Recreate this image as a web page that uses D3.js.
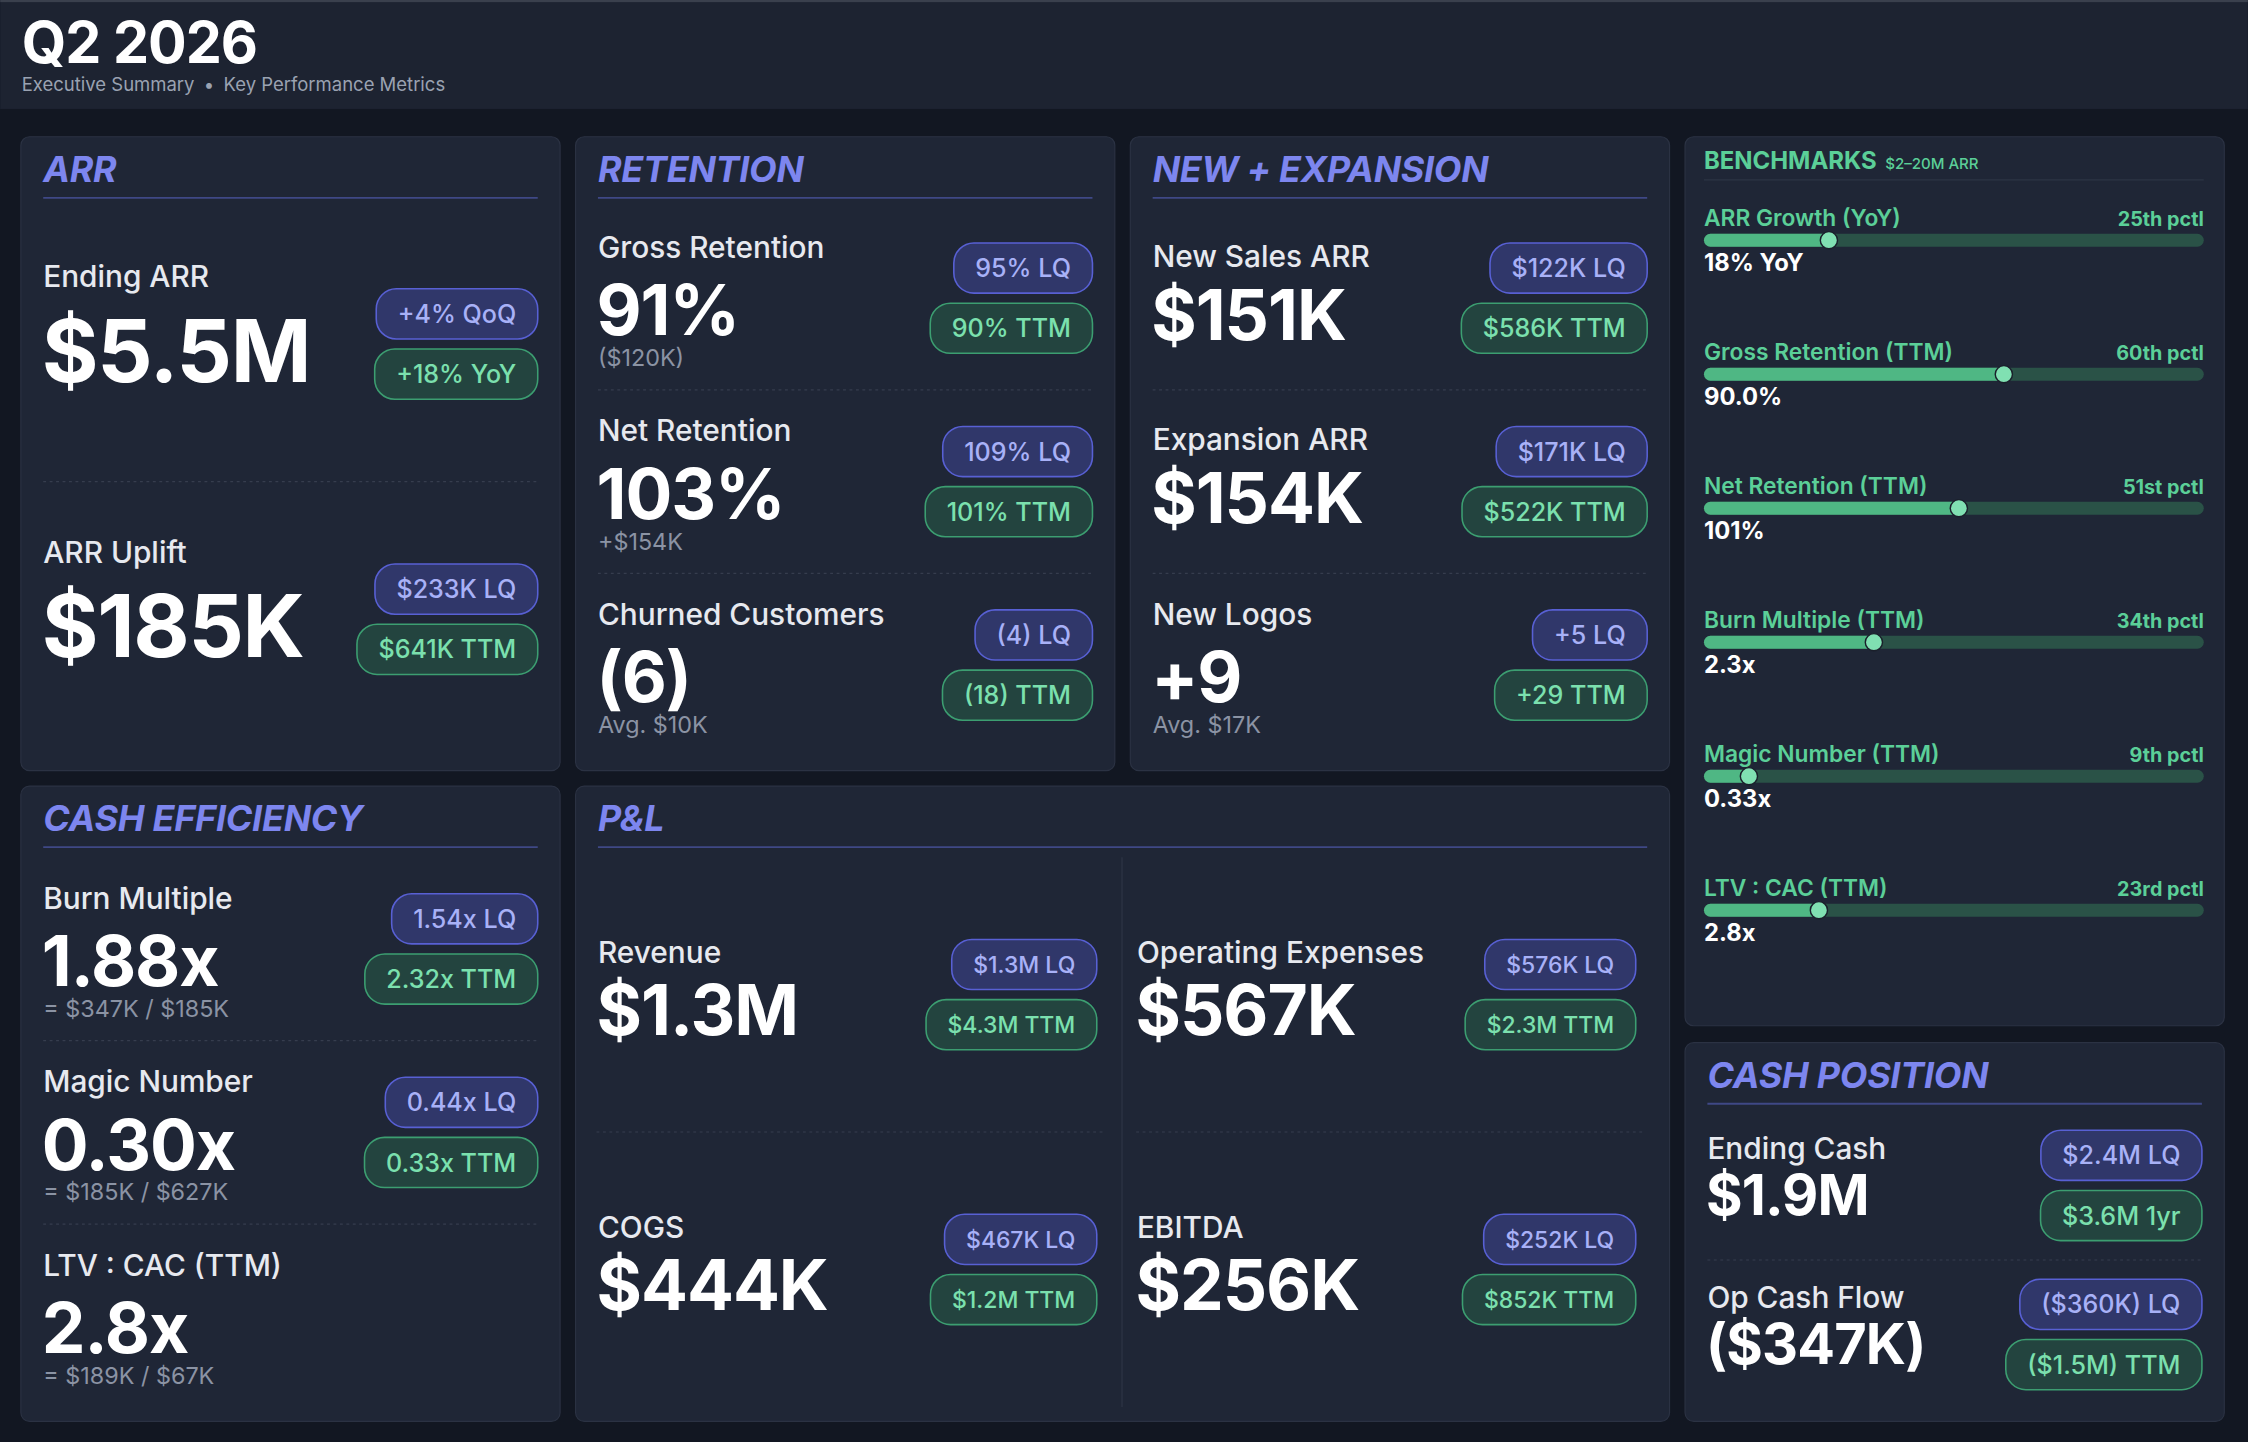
<!DOCTYPE html>
<html><head><meta charset="utf-8">
<script src="https://cdn.jsdelivr.net/npm/d3@7"></script>
<style>
html,body{margin:0;padding:0;background:#121722;overflow:hidden;}
svg{display:block;font-family:Inter,"Noto Sans",sans-serif;}
</style></head><body>
<svg id="c" width="2248" height="1442" viewBox="0 0 1568 1006"></svg>
<script>
// ---------- DATA ----------
const reportTitle = "Q2 2026";
const reportSubtitle = ["Executive Summary", "Key Performance Metrics"];

const sectionTitles = ["ARR", "RETENTION", "NEW + EXPANSION", "CASH EFFICIENCY", "P&L", "CASH POSITION"];

const arrLabels = ["Ending ARR", "ARR Uplift"];
const arrValues = ["$5.5M", "$185K"];
const arrSubs = [null, null];
const arrLQ = ["+4% QoQ", "$233K LQ"];
const arrTTM = ["+18% YoY", "$641K TTM"];

const retentionLabels = ["Gross Retention", "Net Retention", "Churned Customers"];
const retentionValues = ["91%", "103%", "(6)"];
const retentionSubs = ["($120K)", "+$154K", "Avg. $10K"];
const retentionLQ = ["95% LQ", "109% LQ", "(4) LQ"];
const retentionTTM = ["90% TTM", "101% TTM", "(18) TTM"];

const newExpLabels = ["New Sales ARR", "Expansion ARR", "New Logos"];
const newExpValues = ["$151K", "$154K", "+9"];
const newExpSubs = [null, null, "Avg. $17K"];
const newExpLQ = ["$122K LQ", "$171K LQ", "+5 LQ"];
const newExpTTM = ["$586K TTM", "$522K TTM", "+29 TTM"];

const cashEffLabels = ["Burn Multiple", "Magic Number", "LTV : CAC (TTM)"];
const cashEffValues = ["1.88x", "0.30x", "2.8x"];
const cashEffSubs = ["= $347K / $185K", "= $185K / $627K", "= $189K / $67K"];
const cashEffLQ = ["1.54x LQ", "0.44x LQ", null];
const cashEffTTM = ["2.32x TTM", "0.33x TTM", null];

const plLabels = ["Revenue", "Operating Expenses", "COGS", "EBITDA"];
const plValues = ["$1.3M", "$567K", "$444K", "$256K"];
const plLQ = ["$1.3M LQ", "$576K LQ", "$467K LQ", "$252K LQ"];
const plTTM = ["$4.3M TTM", "$2.3M TTM", "$1.2M TTM", "$852K TTM"];

const cashPosLabels = ["Ending Cash", "Op Cash Flow"];
const cashPosValues = ["$1.9M", "($347K)"];
const cashPosSubs = [null, null];
const cashPosLQ = ["$2.4M LQ", "($360K) LQ"];
const cashPosTTM = ["$3.6M 1yr", "($1.5M) TTM"];

const benchTitle = "BENCHMARKS";
const benchScope = "$2\u201320M ARR";
const benchLabels = ["ARR Growth (YoY)", "Gross Retention (TTM)", "Net Retention (TTM)", "Burn Multiple (TTM)", "Magic Number (TTM)", "LTV : CAC (TTM)"];
const benchPercentiles = [25, 60, 51, 34, 9, 23];
const benchPctlLabels = ["25th pctl", "60th pctl", "51st pctl", "34th pctl", "9th pctl", "23rd pctl"];
const benchValues = ["18% YoY", "90.0%", "101%", "2.3x", "0.33x", "2.8x"];

// ---------- STYLE ----------
const C = {
  header: "#1d2331", topLine: "#3a404d",
  panel: "#1f2636", border: "#2b3243",
  title: "#7d86ef", titleLine: "#3f4886",
  label: "#e7e9ef", value: "#ffffff", sub: "#8b93a4",
  lqFill: "#30376a", lqStroke: "#5860d4", lqText: "#a8b1f7",
  ttmFill: "#23443f", ttmStroke: "#3c9e71", ttmText: "#7be0ae",
  divider: "#363d4e", vline: "#2b3243",
  bench: "#5bcf98", trackBg: "#2a5247", trackFill: "#4fb784", marker: "#80e0b2", benchLine: "#2c3444"
};

const svg = d3.select("#c");

// ---------- HEADER ----------
svg.append("rect").attr("x", 0).attr("y", 0).attr("width", 1568).attr("height", 76).attr("fill", C.header);
svg.append("rect").attr("x", 0).attr("y", 0).attr("width", 1568).attr("height", 1.5).attr("fill", C.topLine);
svg.append("text").attr("x", 15).attr("y", 44).attr("font-size", 40).attr("font-weight", 700)
  .attr("fill", C.value).attr("letter-spacing", -0.7).text(reportTitle);
const sub = svg.append("text").attr("x", 15).attr("y", 63.5).attr("font-size", 12.9).attr("fill", "#9aa2b1");
sub.append("tspan").text(reportSubtitle[0]);
sub.append("tspan").attr("dx", 6.5).text("\u2022");
sub.append("tspan").attr("dx", 6.5).text(reportSubtitle[1]);

// ---------- HELPERS ----------
function panel(x, y, w, h) {
  svg.append("rect").attr("x", x + 0.4).attr("y", y + 0.4).attr("width", w - 0.8).attr("height", h - 0.8)
    .attr("rx", 6).attr("fill", C.panel).attr("stroke", C.border).attr("stroke-width", 0.8);
}
function sectionTitle(x, y, w, text) {
  svg.append("text").attr("x", x + 16).attr("y", y + 32).attr("font-size", 25).attr("font-weight", 700)
    .attr("font-style", "italic").attr("letter-spacing", -0.15).attr("fill", C.title).text(text);
  svg.append("line").attr("x1", x + 16).attr("x2", x + w - 16).attr("y1", y + 43).attr("y2", y + 43)
    .attr("stroke", C.titleLine).attr("stroke-width", 1.3);
}
function dotted(x1, x2, y) {
  svg.append("line").attr("x1", x1).attr("x2", x2).attr("y1", y).attr("y2", y)
    .attr("stroke", C.divider).attr("stroke-width", 0.8).attr("stroke-dasharray", "2 2.5");
}
function pill(rightX, top, text, kind, fs) {
  if (!text) return;
  const g = svg.append("g");
  const t = g.append("text").attr("x", rightX - 15).attr("y", top + 17.5 + fs * 0.36)
    .attr("text-anchor", "end").attr("font-size", fs).attr("font-weight", 500)
    .attr("fill", kind === "lq" ? C.lqText : C.ttmText).text(text);
  const w = t.node().getComputedTextLength() + 30;
  g.insert("rect", () => t.node()).attr("x", rightX - w).attr("y", top).attr("width", w).attr("height", 35)
    .attr("rx", 14).attr("fill", kind === "lq" ? C.lqFill : C.ttmFill)
    .attr("stroke", kind === "lq" ? C.lqStroke : C.ttmStroke).attr("stroke-width", 1.1);
}
// one metric block (label, big value, optional sub-line, two pills) centred at c
function metric(x0, right, c, label, value, subText, lq, ttm, st) {
  const hasSub = subText != null;
  const lDy = hasSub ? st.labelDySub : st.labelDy;
  const vDy = hasSub ? st.valueDySub : st.valueDy;
  svg.append("text").attr("x", x0).attr("y", c + lDy).attr("font-size", 20.8).attr("font-weight", 500)
    .attr("fill", C.label).text(label);
  svg.append("text").attr("x", x0 - 1).attr("y", c + vDy).attr("font-size", st.valueSize).attr("font-weight", 700)
    .attr("letter-spacing", -st.valueSize * 0.015).attr("fill", C.value).text(value);
  if (hasSub) {
    svg.append("text").attr("x", x0).attr("y", c + st.subDy).attr("font-size", 16.3).attr("font-weight", 400)
      .attr("fill", C.sub).text(subText);
  }
  pill(right, c - 38.5, lq, "lq", st.pillFs);
  pill(right, c + 3.5, ttm, "ttm", st.pillFs);
}
function metricPanel(x, y, w, h, title, labels, values, subs, lq, ttm, st, rowTop, rowBottom) {
  panel(x, y, w, h);
  sectionTitle(x, y, w, title);
  const rows = d3.scaleBand().domain(d3.range(labels.length)).range([rowTop, rowBottom]).paddingInner(0);
  labels.forEach((lab, i) => {
    if (i > 0) dotted(x + 16, x + w - 16, rows(i));
    const c = rows(i) + rows.bandwidth() / 2;
    metric(x + 16, x + w - 16, c, lab, values[i], subs[i], lq[i], ttm[i], st);
  });
}

const stdStyle = { valueSize: 48.5, labelDy: -22, valueDy: 29, labelDySub: -28, valueDySub: 26, subDy: 47.5, pillFs: 17.5 };
const arrStyle = { valueSize: 60.5, labelDy: -39.5, valueDy: 26.5, labelDySub: -39.5, valueDySub: 26.5, subDy: 47, pillFs: 17.5 };
const plStyle = { valueSize: 48.5, labelDy: -22, valueDy: 28.5, labelDySub: -28, valueDySub: 26, subDy: 47, pillFs: 16 };
const cashStyle = { valueSize: 39, labelDy: -18.5, valueDy: 20.5, labelDySub: -18.5, valueDySub: 20.5, subDy: 40, pillFs: 17.5 };

// ---------- PANELS ----------
metricPanel(14, 95, 377, 443, sectionTitles[0], arrLabels, arrValues, arrSubs, arrLQ, arrTTM, arrStyle, 144, 528);
metricPanel(401, 95, 377, 443, sectionTitles[1], retentionLabels, retentionValues, retentionSubs, retentionLQ, retentionTTM, stdStyle, 144, 528);
metricPanel(788, 95, 377, 443, sectionTitles[2], newExpLabels, newExpValues, newExpSubs, newExpLQ, newExpTTM, stdStyle, 144, 528);
metricPanel(14, 548, 377, 444, sectionTitles[3], cashEffLabels, cashEffValues, cashEffSubs, cashEffLQ, cashEffTTM, stdStyle, 598, 982);
metricPanel(1175, 727, 377, 265, sectionTitles[5], cashPosLabels, cashPosValues, cashPosSubs, cashPosLQ, cashPosTTM, cashStyle, 775, 983);

// P&L : 2 x 2 grid
(function () {
  const x = 401, y = 548, w = 764, h = 444;
  panel(x, y, w, h);
  sectionTitle(x, y, w, sectionTitles[4]);
  const cols = d3.scaleBand().domain([0, 1]).range([417, 1167]);
  const rows = d3.scaleBand().domain([0, 1]).range([598, 981.5]);
  svg.append("line").attr("x1", 782.6).attr("x2", 782.6).attr("y1", 598).attr("y2", 981.5)
    .attr("stroke", C.vline).attr("stroke-width", 1);
  dotted(416, 769, rows(1));
  dotted(792.5, 1145.5, rows(1));
  plLabels.forEach((lab, i) => {
    const col = i % 2, row = Math.floor(i / 2);
    const x0 = col === 0 ? cols(0) : cols(1) + 1;
    const right = col === 0 ? 765 : 1141;
    const c = rows(row) + rows.bandwidth() / 2;
    metric(x0, right, c, lab, plValues[i], null, plLQ[i], plTTM[i], plStyle);
  });
})();

// BENCHMARKS
(function () {
  const x = 1175, y = 95, w = 377, h = 621;
  panel(x, y, w, h);
  const t = svg.append("text").attr("x", 1188.6).attr("y", 118).attr("fill", C.bench);
  t.append("tspan").attr("font-size", 16.7).attr("font-weight", 700).text(benchTitle);
  t.append("tspan").attr("dx", 6).attr("font-size", 10.5).attr("font-weight", 500).text(benchScope);
  svg.append("line").attr("x1", 1188.6).attr("x2", 1537.3).attr("y1", 125.5).attr("y2", 125.5)
    .attr("stroke", C.benchLine).attr("stroke-width", 1);
  const xs = d3.scaleLinear().domain([0, 100]).range([1188.6, 1537.3]);
  const ys = d3.scalePoint().domain(benchLabels).range([157.6, 625]);
  const g = svg.append("g").selectAll("g").data(benchLabels).join("g")
    .attr("transform", d => `translate(0,${ys(d)})`);
  g.append("text").attr("x", xs(0)).attr("y", 0).attr("font-size", 15.9).attr("font-weight", 600)
    .attr("fill", C.bench).text(d => d);
  g.append("text").attr("x", xs(100)).attr("y", 0).attr("text-anchor", "end").attr("font-size", 13.8)
    .attr("font-weight", 700).attr("fill", C.bench).text((d, i) => benchPctlLabels[i]);
  g.append("rect").attr("x", xs(0)).attr("y", 5.5).attr("width", xs(100) - xs(0)).attr("height", 9)
    .attr("rx", 4.5).attr("fill", C.trackBg);
  g.append("rect").attr("x", xs(0)).attr("y", 5.5).attr("width", (d, i) => xs(benchPercentiles[i]) - xs(0))
    .attr("height", 9).attr("rx", 4.5).attr("fill", C.trackFill);
  g.append("circle").attr("cx", (d, i) => xs(benchPercentiles[i])).attr("cy", 10).attr("r", 6)
    .attr("fill", C.marker).attr("stroke", "#1a1f2b").attr("stroke-width", 1);
  g.append("text").attr("x", xs(0)).attr("y", 31.4).attr("font-size", 16.6).attr("font-weight", 700)
    .attr("fill", C.value).text((d, i) => benchValues[i]);
})();
</script>
</body></html>
